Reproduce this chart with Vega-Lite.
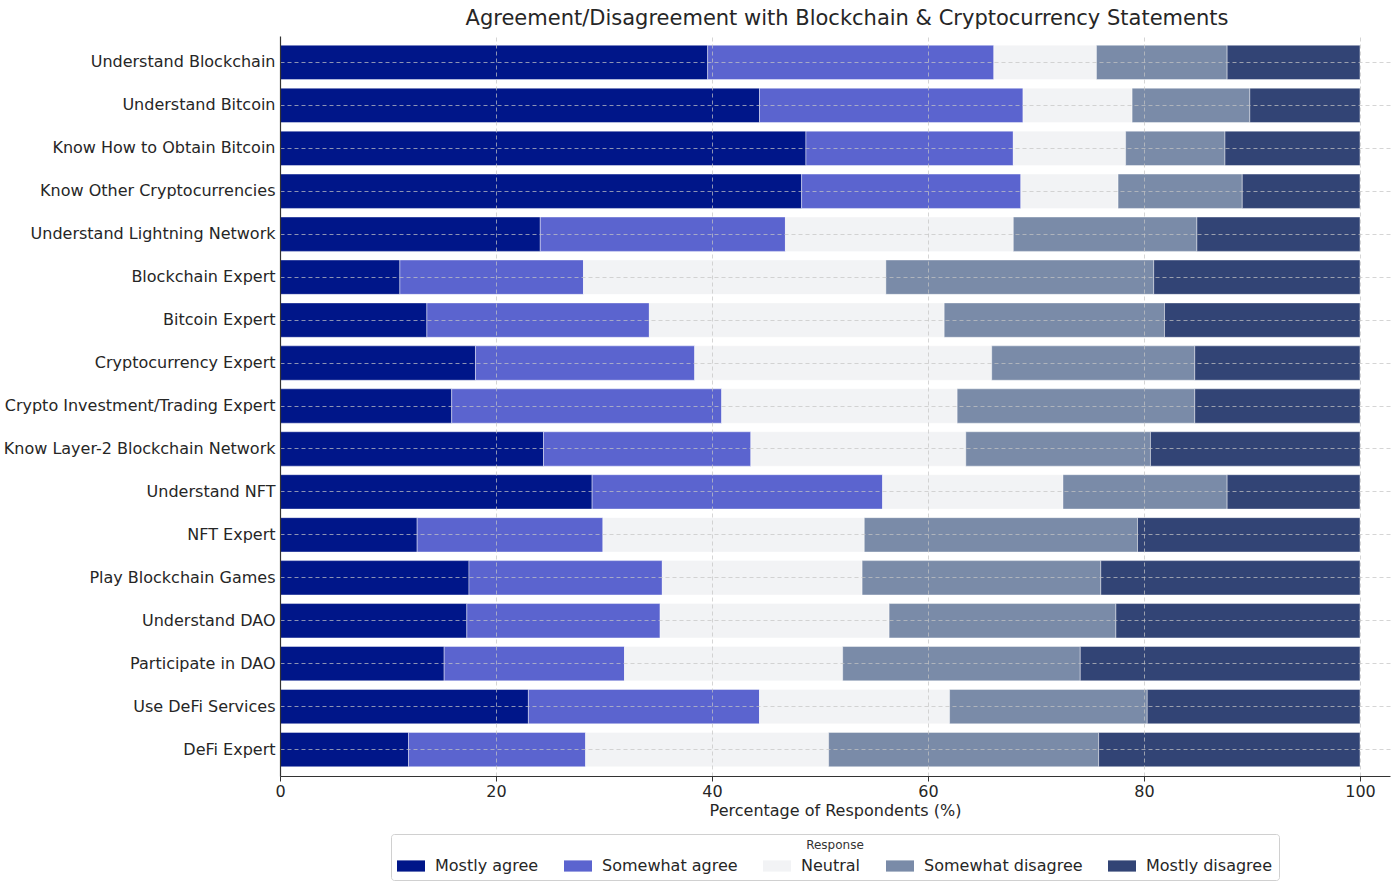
{
  "$schema": "https://vega.github.io/schema/vega-lite/v6.json",
  "width": 1110,
  "height": 740,
  "autosize": {"type": "none"},
  "padding": {"left": 280, "top": 36, "right": 1, "bottom": 114},
  "background": "white",
  "title": {
    "text": "Agreement/Disagreement with Blockchain & Cryptocurrency Statements",
    "font": "DejaVu Sans",
    "fontSize": 21,
    "fontWeight": "normal",
    "color": "#262626",
    "anchor": "middle",
    "dx": 12,
    "offset": 7
  },
  "data": {
    "values": [
      {"statement": "Understand Blockchain", "response": "Mostly agree", "pct": 39.6},
      {"statement": "Understand Blockchain", "response": "Somewhat agree", "pct": 26.5},
      {"statement": "Understand Blockchain", "response": "Neutral", "pct": 9.5},
      {"statement": "Understand Blockchain", "response": "Somewhat disagree", "pct": 12.1},
      {"statement": "Understand Blockchain", "response": "Mostly disagree", "pct": 12.3},
      {"statement": "Understand Bitcoin", "response": "Mostly agree", "pct": 44.4},
      {"statement": "Understand Bitcoin", "response": "Somewhat agree", "pct": 24.4},
      {"statement": "Understand Bitcoin", "response": "Neutral", "pct": 10.1},
      {"statement": "Understand Bitcoin", "response": "Somewhat disagree", "pct": 10.9},
      {"statement": "Understand Bitcoin", "response": "Mostly disagree", "pct": 10.2},
      {"statement": "Know How to Obtain Bitcoin", "response": "Mostly agree", "pct": 48.7},
      {"statement": "Know How to Obtain Bitcoin", "response": "Somewhat agree", "pct": 19.2},
      {"statement": "Know How to Obtain Bitcoin", "response": "Neutral", "pct": 10.4},
      {"statement": "Know How to Obtain Bitcoin", "response": "Somewhat disagree", "pct": 9.2},
      {"statement": "Know How to Obtain Bitcoin", "response": "Mostly disagree", "pct": 12.5},
      {"statement": "Know Other Cryptocurrencies", "response": "Mostly agree", "pct": 48.3},
      {"statement": "Know Other Cryptocurrencies", "response": "Somewhat agree", "pct": 20.3},
      {"statement": "Know Other Cryptocurrencies", "response": "Neutral", "pct": 9.0},
      {"statement": "Know Other Cryptocurrencies", "response": "Somewhat disagree", "pct": 11.5},
      {"statement": "Know Other Cryptocurrencies", "response": "Mostly disagree", "pct": 10.9},
      {"statement": "Understand Lightning Network", "response": "Mostly agree", "pct": 24.1},
      {"statement": "Understand Lightning Network", "response": "Somewhat agree", "pct": 22.7},
      {"statement": "Understand Lightning Network", "response": "Neutral", "pct": 21.1},
      {"statement": "Understand Lightning Network", "response": "Somewhat disagree", "pct": 17.0},
      {"statement": "Understand Lightning Network", "response": "Mostly disagree", "pct": 15.1},
      {"statement": "Blockchain Expert", "response": "Mostly agree", "pct": 11.1},
      {"statement": "Blockchain Expert", "response": "Somewhat agree", "pct": 17.0},
      {"statement": "Blockchain Expert", "response": "Neutral", "pct": 28.0},
      {"statement": "Blockchain Expert", "response": "Somewhat disagree", "pct": 24.8},
      {"statement": "Blockchain Expert", "response": "Mostly disagree", "pct": 19.1},
      {"statement": "Bitcoin Expert", "response": "Mostly agree", "pct": 13.6},
      {"statement": "Bitcoin Expert", "response": "Somewhat agree", "pct": 20.6},
      {"statement": "Bitcoin Expert", "response": "Neutral", "pct": 27.3},
      {"statement": "Bitcoin Expert", "response": "Somewhat disagree", "pct": 20.4},
      {"statement": "Bitcoin Expert", "response": "Mostly disagree", "pct": 18.1},
      {"statement": "Cryptocurrency Expert", "response": "Mostly agree", "pct": 18.1},
      {"statement": "Cryptocurrency Expert", "response": "Somewhat agree", "pct": 20.3},
      {"statement": "Cryptocurrency Expert", "response": "Neutral", "pct": 27.5},
      {"statement": "Cryptocurrency Expert", "response": "Somewhat disagree", "pct": 18.8},
      {"statement": "Cryptocurrency Expert", "response": "Mostly disagree", "pct": 15.3},
      {"statement": "Crypto Investment/Trading Expert", "response": "Mostly agree", "pct": 15.9},
      {"statement": "Crypto Investment/Trading Expert", "response": "Somewhat agree", "pct": 25.0},
      {"statement": "Crypto Investment/Trading Expert", "response": "Neutral", "pct": 21.8},
      {"statement": "Crypto Investment/Trading Expert", "response": "Somewhat disagree", "pct": 22.0},
      {"statement": "Crypto Investment/Trading Expert", "response": "Mostly disagree", "pct": 15.3},
      {"statement": "Know Layer-2 Blockchain Network", "response": "Mostly agree", "pct": 24.4},
      {"statement": "Know Layer-2 Blockchain Network", "response": "Somewhat agree", "pct": 19.2},
      {"statement": "Know Layer-2 Blockchain Network", "response": "Neutral", "pct": 19.9},
      {"statement": "Know Layer-2 Blockchain Network", "response": "Somewhat disagree", "pct": 17.1},
      {"statement": "Know Layer-2 Blockchain Network", "response": "Mostly disagree", "pct": 19.4},
      {"statement": "Understand NFT", "response": "Mostly agree", "pct": 28.9},
      {"statement": "Understand NFT", "response": "Somewhat agree", "pct": 26.9},
      {"statement": "Understand NFT", "response": "Neutral", "pct": 16.7},
      {"statement": "Understand NFT", "response": "Somewhat disagree", "pct": 15.2},
      {"statement": "Understand NFT", "response": "Mostly disagree", "pct": 12.3},
      {"statement": "NFT Expert", "response": "Mostly agree", "pct": 12.7},
      {"statement": "NFT Expert", "response": "Somewhat agree", "pct": 17.2},
      {"statement": "NFT Expert", "response": "Neutral", "pct": 24.2},
      {"statement": "NFT Expert", "response": "Somewhat disagree", "pct": 25.3},
      {"statement": "NFT Expert", "response": "Mostly disagree", "pct": 20.6},
      {"statement": "Play Blockchain Games", "response": "Mostly agree", "pct": 17.5},
      {"statement": "Play Blockchain Games", "response": "Somewhat agree", "pct": 17.9},
      {"statement": "Play Blockchain Games", "response": "Neutral", "pct": 18.5},
      {"statement": "Play Blockchain Games", "response": "Somewhat disagree", "pct": 22.1},
      {"statement": "Play Blockchain Games", "response": "Mostly disagree", "pct": 24.0},
      {"statement": "Understand DAO", "response": "Mostly agree", "pct": 17.3},
      {"statement": "Understand DAO", "response": "Somewhat agree", "pct": 17.9},
      {"statement": "Understand DAO", "response": "Neutral", "pct": 21.2},
      {"statement": "Understand DAO", "response": "Somewhat disagree", "pct": 21.0},
      {"statement": "Understand DAO", "response": "Mostly disagree", "pct": 22.6},
      {"statement": "Participate in DAO", "response": "Mostly agree", "pct": 15.2},
      {"statement": "Participate in DAO", "response": "Somewhat agree", "pct": 16.7},
      {"statement": "Participate in DAO", "response": "Neutral", "pct": 20.2},
      {"statement": "Participate in DAO", "response": "Somewhat disagree", "pct": 22.0},
      {"statement": "Participate in DAO", "response": "Mostly disagree", "pct": 25.9},
      {"statement": "Use DeFi Services", "response": "Mostly agree", "pct": 23.0},
      {"statement": "Use DeFi Services", "response": "Somewhat agree", "pct": 21.4},
      {"statement": "Use DeFi Services", "response": "Neutral", "pct": 17.6},
      {"statement": "Use DeFi Services", "response": "Somewhat disagree", "pct": 18.3},
      {"statement": "Use DeFi Services", "response": "Mostly disagree", "pct": 19.7},
      {"statement": "DeFi Expert", "response": "Mostly agree", "pct": 11.9},
      {"statement": "DeFi Expert", "response": "Somewhat agree", "pct": 16.4},
      {"statement": "DeFi Expert", "response": "Neutral", "pct": 22.5},
      {"statement": "DeFi Expert", "response": "Somewhat disagree", "pct": 25.0},
      {"statement": "DeFi Expert", "response": "Mostly disagree", "pct": 24.2}
    ]
  },
  "transform": [
    {
      "calculate": "indexof(['Mostly agree', 'Somewhat agree', 'Neutral', 'Somewhat disagree', 'Mostly disagree'], datum.response)",
      "as": "stack_order"
    }
  ],
  "mark": {"type": "bar", "stroke": "white", "strokeWidth": 0.6, "strokeOpacity": 0.7},
  "encoding": {
    "x": {
      "field": "pct",
      "type": "quantitative",
      "stack": "zero",
      "scale": {"domain": [0, 102.78], "nice": false},
      "axis": {
        "values": [0, 20, 40, 60, 80, 100],
        "title": "Percentage of Respondents (%)",
        "grid": true,
        "zindex": 1,
        "labelFlush": false,
        "titlePadding": 3
      }
    },
    "y": {
      "field": "statement",
      "type": "nominal",
      "title": null,
      "sort": [
        "Understand Blockchain", "Understand Bitcoin", "Know How to Obtain Bitcoin",
        "Know Other Cryptocurrencies", "Understand Lightning Network", "Blockchain Expert",
        "Bitcoin Expert", "Cryptocurrency Expert", "Crypto Investment/Trading Expert",
        "Know Layer-2 Blockchain Network", "Understand NFT", "NFT Expert",
        "Play Blockchain Games", "Understand DAO", "Participate in DAO",
        "Use DeFi Services", "DeFi Expert"
      ],
      "scale": {"paddingInner": 0.2, "paddingOuter": 0.215},
      "axis": {"grid": true, "ticks": false, "zindex": 1, "labelPadding": 5, "labelLimit": 0, "bandPosition": 0.5}
    },
    "order": {"field": "stack_order", "type": "quantitative"},
    "color": {
      "field": "response",
      "type": "nominal",
      "sort": ["Mostly agree", "Somewhat agree", "Neutral", "Somewhat disagree", "Mostly disagree"],
      "scale": {
        "domain": ["Mostly agree", "Somewhat agree", "Neutral", "Somewhat disagree", "Mostly disagree"],
        "range": ["#001689", "#5b64cf", "#f2f3f5", "#7a8ba8", "#324475"]
      },
      "legend": {
        "title": "Response",
        "orient": "bottom",
        "direction": "horizontal",
        "titleAnchor": "middle",
        "titleOrient": "top",
        "offset": 16
      }
    }
  },
  "config": {
    "view": {"stroke": null},
    "font": "DejaVu Sans",
    "axis": {
      "labelFont": "DejaVu Sans",
      "labelFontSize": 16,
      "labelColor": "#262626",
      "titleFont": "DejaVu Sans",
      "titleFontSize": 16,
      "titleFontWeight": "normal",
      "titleColor": "#262626",
      "domainColor": "#333333",
      "domainWidth": 1.2,
      "tickColor": "#333333",
      "tickSize": 5,
      "gridColor": "#c4c4c4",
      "gridDash": [4, 3],
      "gridWidth": 0.8,
      "gridOpacity": 0.9
    },
    "legend": {
      "labelFont": "DejaVu Sans",
      "labelFontSize": 16,
      "labelColor": "#262626",
      "titleFont": "DejaVu Sans",
      "titleFontSize": 12,
      "titleFontWeight": "normal",
      "titleColor": "#333333",
      "titlePadding": 0,
      "symbolType": "M-1,-0.4H1V0.4H-1Z",
      "symbolSize": 784,
      "symbolStrokeWidth": 0,
      "columnPadding": 25,
      "labelOffset": 10,
      "strokeColor": "#d0d0d0",
      "padding": 6,
      "cornerRadius": 3,
      "layout": {"bottom": {"anchor": "middle"}}
    }
  }
}
